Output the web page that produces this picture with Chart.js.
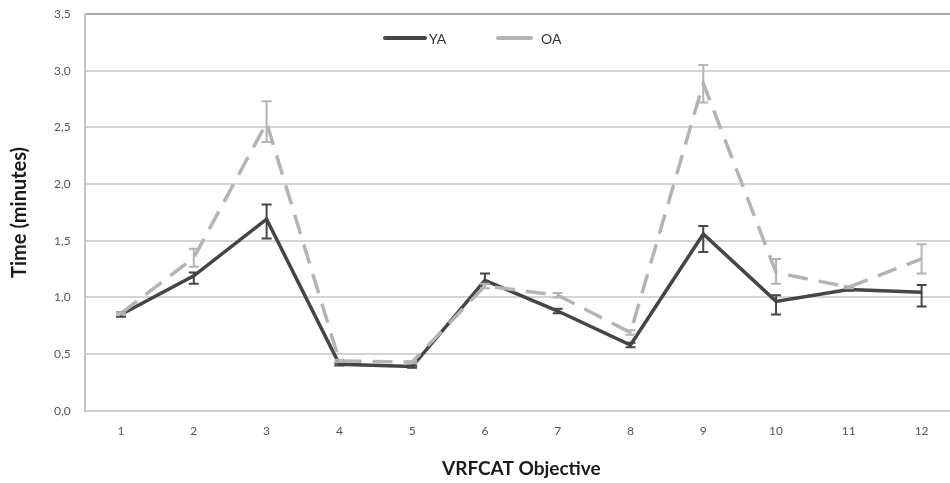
<!DOCTYPE html>
<html>
<head>
<meta charset="utf-8">
<script src="https://cdn.jsdelivr.net/npm/chart.js@4"></script>
<style>
    html, body { margin: 0; padding: 0; background: #fff; overflow: hidden; }
    #contenedor { width: 958px; height: 483px; position: relative; }
</style>
</head>
<body>
<div id="contenedor"><canvas id="grafico"></canvas></div>
<script>
const objetivos = ['1', '2', '3', '4', '5', '6', '7', '8', '9', '10', '11', '12'];

const tiempoYA = [0.85, 1.19, 1.69, 0.41, 0.39, 1.15, 0.88, 0.58, 1.56, 0.965, 1.07, 1.045];
const errorYAbajo = [0.83, 1.12, 1.52, 0.40, 0.38, 1.12, 0.86, 0.56, 1.40, 0.85, 1.06, 0.92];
const errorYAalto = [0.87, 1.22, 1.82, 0.42, 0.40, 1.21, 0.90, 0.60, 1.63, 1.02, 1.08, 1.11];

const tiempoOA = [0.86, 1.35, 2.54, 0.44, 0.43, 1.10, 1.02, 0.69, 2.89, 1.22, 1.09, 1.34];
const errorOAbajo = [0.85, 1.27, 2.37, 0.43, 0.42, 1.08, 1.00, 0.67, 2.72, 1.12, 1.08, 1.21];
const errorOAalto = [0.87, 1.43, 2.73, 0.45, 0.44, 1.12, 1.04, 0.71, 3.05, 1.34, 1.10, 1.47];

const ticksY = [0, 0.5, 1, 1.5, 2, 2.5, 3, 3.5];

const colorYA = '#454545';
const colorOA = '#b4b4b4';

// barras de error dibujadas con las escalas del grafico
const barrasError = {
    id: 'barrasError',
    afterDatasetsDraw(chart) {
        const ctx = chart.ctx;
        const x = chart.scales.x;
        const y = chart.scales.y;
        const series = [
            {bajo: errorYAbajo, alto: errorYAalto, color: colorYA},
            {bajo: errorOAbajo, alto: errorOAalto, color: colorOA}
        ];
        ctx.save();
        series.forEach(s => {
            ctx.strokeStyle = s.color;
            ctx.lineWidth = 2;
            s.bajo.forEach((v, i) => {
                const px = x.getPixelForValue(i);
                const y1 = y.getPixelForValue(v);
                const y2 = y.getPixelForValue(s.alto[i]);
                ctx.beginPath();
                ctx.moveTo(px, y1);
                ctx.lineTo(px, y2);
                ctx.moveTo(px - 5, y1);
                ctx.lineTo(px + 5, y1);
                ctx.moveTo(px - 5, y2);
                ctx.lineTo(px + 5, y2);
                ctx.stroke();
            });
        });
        ctx.restore();
    }
};

// leyenda dentro del area del grafico
const leyenda = {
    id: 'leyenda',
    afterDraw(chart) {
        const ctx = chart.ctx;
        ctx.save();
        ctx.font = '14px Lato';
        ctx.fillStyle = '#333';
        ctx.textBaseline = 'middle';
        ctx.lineWidth = 4;
        ctx.lineCap = 'round';
        const items = [
            {texto: 'YA', color: colorYA, x1: 385, x2: 425, xt: 429},
            {texto: 'OA', color: colorOA, x1: 498, x2: 531, xt: 541}
        ];
        items.forEach(it => {
            ctx.strokeStyle = it.color;
            ctx.beginPath();
            ctx.moveTo(it.x1, 38);
            ctx.lineTo(it.x2, 38);
            ctx.stroke();
            ctx.fillText(it.texto, it.xt, 39);
        });
        ctx.restore();
    }
};

class GraficoTiempos {
    constructor() {
        this.lienzo = document.querySelector('#grafico');
        this.dibujar();
    }

    dibujar() {
        const data = {
            labels: objetivos,
            datasets: [{
                label: 'YA',
                data: tiempoYA,
                borderColor: colorYA,
                borderWidth: 3.5,
                pointRadius: 0,
                tension: 0,
                order: 2
            }, {
                label: 'OA',
                data: tiempoOA,
                borderColor: colorOA,
                borderWidth: 3.5,
                borderDash: [20, 11],
                pointRadius: 0,
                tension: 0,
                order: 1
            }]
        };

        new Chart(this.lienzo, {
            type: 'line',
            data,
            options: {
                responsive: true,
                maintainAspectRatio: false,
                animation: false,
                layout: {padding: {left: 8, top: 14, right: 0, bottom: 3}},
                plugins: {
                    legend: {display: false},
                    tooltip: {enabled: false}
                },
                scales: {
                    x: {
                        offset: true,
                        grid: {display: false},
                        border: {color: '#d0d0d0', width: 2},
                        ticks: {color: '#555', font: {family: 'Lato', size: 12}, padding: 5},
                        title: {
                            display: true,
                            text: 'VRFCAT Objective',
                            color: '#1a1a1a',
                            font: {family: 'Lato', size: 19, weight: 'bold'},
                            padding: {top: 14, bottom: 0}
                        }
                    },
                    y: {
                        min: 0,
                        max: 3.5,
                        afterBuildTicks: axis => { axis.ticks = ticksY.map(v => ({value: v})); },
                        afterFit: axis => { axis.paddingTop = 0; },
                        grid: {
                            color: ctx => ctx.tick && ctx.tick.value === 3.5 ? '#a8a8a8' : '#d4d4d4',
                            lineWidth: 2,
                            drawTicks: false
                        },
                        border: {color: '#c4c4c4', width: 2},
                        ticks: {
                            color: '#555',
                            font: {family: 'Lato', size: 12},
                            padding: 14,
                            callback: v => v.toFixed(1).replace('.', ',')
                        },
                        title: {
                            display: true,
                            text: 'Time (minutes)',
                            color: '#1a1a1a',
                            font: {family: 'Lato', size: 20, weight: 'bold'},
                            padding: {top: 0, bottom: 8}
                        }
                    }
                }
            },
            plugins: [barrasError, leyenda]
        });
    }
}

window.addEventListener('load', () => {
    new GraficoTiempos();
});
</script>
</body>
</html>
